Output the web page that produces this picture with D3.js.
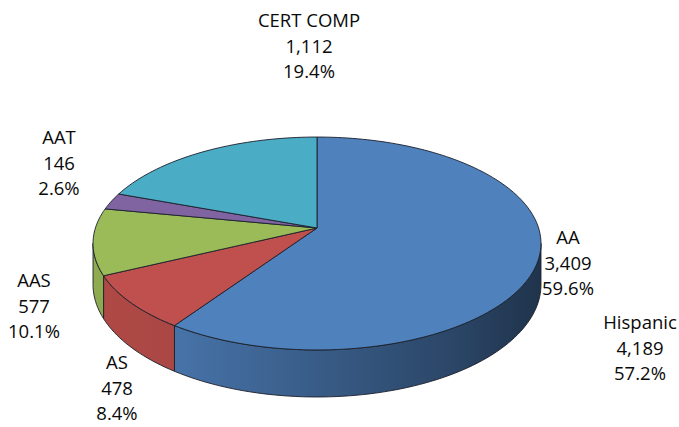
<!DOCTYPE html>
<html>
<head>
<meta charset="utf-8">
<script src="https://cdn.jsdelivr.net/npm/d3@7"></script>
<style>
  body { margin: 0; background: #fff; }
  svg { display: block; }
  .lbl { font-family: "Open Sans", sans-serif; font-size: 18.5px; fill: #0a0a0a; }
</style>
</head>
<body>
<svg id="chart" width="679" height="427"></svg>
<script>
// data, clockwise from 12 o'clock
const categories = ["AA", "AS", "AAS", "AAT", "CERT COMP"]
const values = [3409, 478, 577, 146, 1112]
const sliceColors = ["#4F81BD", "#C0504D", "#9BBB59", "#8064A2", "#4BACC6"]

// stray label that sits to the right of the pie
const extraName = "Hispanic"
const extraValue = 4189
const extraShare = 0.572

const w = 679
const h = 427
const svg = d3.select("#chart")

// perspective of the tilted disk
const cx = 317
const vy = 228
const S = 221.6
const T = 104.2
const k = 0.1455
const depth = 40.2

// label anchors (centre x, first baseline)
const labelAt = {
  AA: [568, 244],
  AS: [117, 369],
  AAS: [34, 287],
  AAT: [59, 144],
  "CERT COMP": [309, 27],
}
const extraAt = [640, 329]
const lineGap = 25.5

function proj(a, r, drop) {
  const u = r * Math.sin(a)
  const wz = r * Math.cos(a)
  const den = 1 + k * wz
  return [cx + (S * u) / den, vy - (T * wz) / den + (drop * depth) / den]
}

const total = d3.sum(values)
const fmtNum = d3.format(",")
const fmtPct = d3.format(".1%")

const pie = d3.pie().sort(null).startAngle(0).endAngle(2 * Math.PI)
const arcs = pie(values).map((d, i) => ({ ...d, name: categories[i], color: sliceColors[i] }))

const line = d3.line()

function arcPoints(a0, a1, drop) {
  const n = Math.max(2, Math.ceil(((a1 - a0) / (2 * Math.PI)) * 240))
  return d3.range(n + 1).map((j) => proj(a0 + ((a1 - a0) * j) / n, 1, drop))
}

// side gradients, lit from the left
const defs = svg.append("defs")
arcs.forEach((d, i) => {
  const g = defs
    .append("linearGradient")
    .attr("id", `side${i}`)
    .attr("gradientUnits", "userSpaceOnUse")
    .attr("x1", cx - S * 1.02)
    .attr("x2", cx + S * 1.02)
    .attr("y1", 0)
    .attr("y2", 0)
  const stops = [
    [0, 0.25],
    [0.2, 0.35],
    [0.8, 1.7],
    [1, 2.6],
  ]
  stops.forEach(([o, dk]) => {
    g.append("stop").attr("offset", o).attr("stop-color", d3.color(d.color).darker(dk))
  })
})

// visible part of the outer wall
const lo = Math.acos(-k)
const hi = 2 * Math.PI - lo

svg
  .append("g")
  .attr("class", "walls")
  .selectAll("path")
  .data(arcs.filter((d) => d.endAngle > lo && d.startAngle < hi))
  .join("path")
  .attr("d", (d) => {
    const a0 = Math.max(d.startAngle, lo)
    const a1 = Math.min(d.endAngle, hi)
    const top = arcPoints(a0, a1, 0)
    const bottom = arcPoints(a0, a1, 1).reverse()
    return line(top.concat(bottom)) + "Z"
  })
  .attr("fill", (d) => `url(#side${d.index})`)
  .attr("stroke", "#1b1f2a")
  .attr("stroke-width", 0.9)
  .attr("stroke-linejoin", "round")

svg
  .append("g")
  .attr("class", "tops")
  .selectAll("path")
  .data(arcs)
  .join("path")
  .attr("d", (d) => line([proj(0, 0, 0)].concat(arcPoints(d.startAngle, d.endAngle, 0))) + "Z")
  .attr("fill", (d) => d.color)
  .attr("stroke", "#1b1f2a")
  .attr("stroke-width", 0.9)
  .attr("stroke-linejoin", "round")

// data labels
const labels = arcs.map((d) => ({
  pos: labelAt[d.name],
  lines: [d.name, fmtNum(d.value), fmtPct(d.value / total)],
}))
labels.push({
  pos: extraAt,
  lines: [extraName, fmtNum(extraValue), fmtPct(extraShare)],
})

svg
  .append("g")
  .attr("class", "labels")
  .selectAll("text")
  .data(labels)
  .join("text")
  .attr("class", "lbl")
  .attr("text-anchor", "middle")
  .each(function (d) {
    d3.select(this)
      .selectAll("tspan")
      .data(d.lines)
      .join("tspan")
      .attr("x", d.pos[0])
      .attr("y", (t, j) => d.pos[1] + j * lineGap)
      .text((t) => t)
  })
</script>
</body>
</html>
